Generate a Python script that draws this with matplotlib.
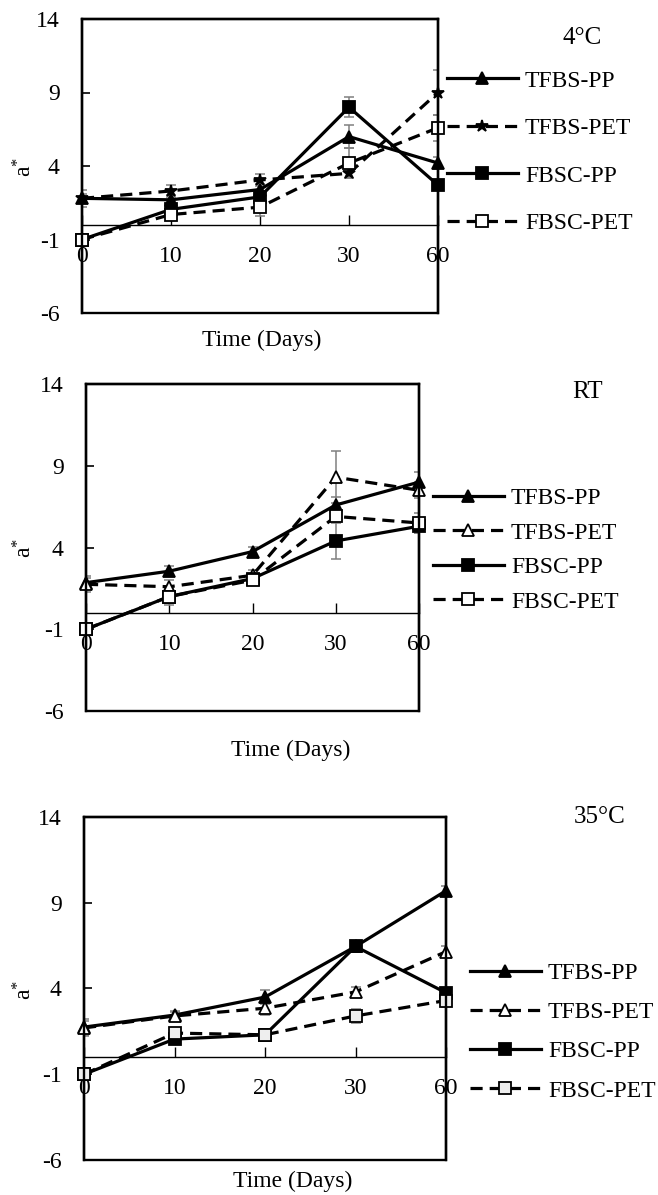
"""
a* colour value of the four samples over storage time,
three panels: 4 °C, room temperature, 35 °C.
"""

import matplotlib
matplotlib.use("Agg")
import matplotlib.pyplot as plt
import numpy as np
from matplotlib.patches import Rectangle

plt.rcParams["font.family"] = ["Liberation Serif", "DejaVu Serif"]
plt.rcParams["mathtext.default"] = "regular"
plt.rcParams["axes.unicode_minus"] = False

# ------------------------------------------------------------
#  data
# ------------------------------------------------------------
days = ["0", "10", "20", "30", "60"]
series_names = ["TFBS-PP", "TFBS-PET", "FBSC-PP", "FBSC-PET"]
y_ticks = [-6, -1, 4, 9, 14]

# 4 °C
c4_tfbs_pp = [1.8, 1.7, 2.4, 6.0, 4.2]
c4_tfbs_pet = [1.8, 2.3, 3.05, 3.5, 9.0]
c4_fbsc_pp = [-1.0, 1.05, 1.9, 8.0, 2.7]
c4_fbsc_pet = [-1.0, 0.7, 1.2, 4.2, 6.6]
c4_err = [
    [0.6, 0.3, 0.4, 0.8, 0.4],
    [0.3, 0.4, 0.4, 0.3, 1.5],
    [0.2, 0.2, 0.3, 0.7, 0.3],
    [0.2, 0.4, 0.6, 1.0, 0.9],
]

# room temperature
rt_tfbs_pp = [1.85, 2.55, 3.75, 6.6, 8.0]
rt_tfbs_pet = [1.75, 1.6, 2.3, 8.3, 7.5]
rt_fbsc_pp = [-1.0, 1.0, 2.1, 4.4, 5.3]
rt_fbsc_pet = [-1.0, 1.0, 2.0, 5.9, 5.5]
rt_err = [
    [0.3, 0.3, 0.3, 0.5, 0.6],
    [0.5, 0.4, 0.3, 1.6, 0.5],
    [0.2, 0.3, 0.3, 1.1, 0.4],
    [0.3, 0.5, 0.3, 0.3, 0.6],
]

# 35 °C
c35_tfbs_pp = [1.75, 2.45, 3.5, 6.45, 9.7]
c35_tfbs_pet = [1.7, 2.4, 2.85, 3.8, 6.15]
c35_fbsc_pp = [-1.0, 1.05, 1.3, 6.45, 3.75]
c35_fbsc_pet = [-1.0, 1.4, 1.3, 2.4, 3.3]
c35_err = [
    [0.5, 0.2, 0.4, 0.2, 0.3],
    [0.4, 0.3, 0.4, 0.3, 0.3],
    [0.2, 0.2, 0.2, 0.3, 0.3],
    [0.2, 0.3, 0.2, 0.4, 0.4],
]

# ------------------------------------------------------------
#  figure
# ------------------------------------------------------------
W, H = 658, 1195
FS = 17
fig = plt.figure(figsize=(W / 100, H / 100), dpi=100)


def px_rect(left, top, right, bottom):
    return [left / W, 1 - bottom / H, (right - left) / W, (bottom - top) / H]


def draw_panel(rect, values, errors, styles, title, title_xy, xlabel_xy,
               ylabel_y, legend_xy, legend_spacing):
    ax = fig.add_axes(rect)
    x = np.arange(len(days))

    handles = []
    for vals, err, st in zip(values, errors, styles):
        ax.errorbar(x, vals, yerr=err, fmt="none", ecolor="#808080",
                    elinewidth=1.1, capsize=3.5, capthick=1.1, zorder=2)
        ln, = ax.plot(x, vals, color="black", lw=2.3, ls=st["ls"],
                      marker=st["marker"], ms=st["ms"],
                      mfc=st["mfc"], mec="black", mew=1.3, zorder=3,
                      clip_on=False)
        if st["ls"] == "--":
            ln.set_dashes((3.8, 2.2))
        handles.append(ln)

    # x axis runs through zero, plot area keeps its box
    ax.spines["bottom"].set_position(("data", 0))
    ax.spines["bottom"].set_linewidth(1.0)
    for s in ["left", "right", "top"]:
        ax.spines[s].set_linewidth(1.7)
    ax.add_patch(Rectangle((0, 0), 1, 1, transform=ax.transAxes, fill=False,
                           lw=1.7, ec="black", zorder=5, clip_on=False))

    ax.set_xlim(0, len(days) - 1)
    ax.set_ylim(y_ticks[0], y_ticks[-1])
    ax.set_xticks(x)
    ax.set_xticklabels(days)
    ax.set_yticks(y_ticks)
    ax.set_yticklabels([str(t) for t in y_ticks])
    ax.tick_params(axis="x", direction="in", length=7, width=1.0, pad=15,
                   labelsize=FS)
    ax.tick_params(axis="y", direction="in", length=6, width=1.2, pad=16,
                   labelsize=FS)

    fig.text(title_xy[0] / W, 1 - title_xy[1] / H, title, fontsize=FS + 1,
             ha="center", va="center")
    fig.text(xlabel_xy[0] / W, 1 - xlabel_xy[1] / H, "Time (Days)",
             fontsize=FS, ha="center", va="center")
    fig.text(25 / W, 1 - ylabel_y / H, "a$^{*}$", fontsize=FS,
             rotation=90, ha="center", va="center")

    ax.legend(handles, series_names, loc="center left",
              bbox_to_anchor=(legend_xy[0] / W, 1 - legend_xy[1] / H),
              bbox_transform=fig.transFigure, frameon=False, fontsize=FS,
              borderpad=0, borderaxespad=0, handlelength=3.0,
              handletextpad=0.3, labelspacing=legend_spacing)
    return ax


styles_4c = [
    dict(ls="-", marker="^", ms=8, mfc="black"),
    dict(ls="--", marker="*", ms=9, mfc="black"),
    dict(ls="-", marker="s", ms=9, mfc="black"),
    dict(ls="--", marker="s", ms=9, mfc="white"),
]
styles_rt = [
    dict(ls="-", marker="^", ms=8, mfc="black"),
    dict(ls="--", marker="^", ms=8, mfc="white"),
    dict(ls="-", marker="s", ms=9, mfc="black"),
    dict(ls="--", marker="s", ms=9, mfc="white"),
]
styles_35c = [
    dict(ls="-", marker="^", ms=8, mfc="black"),
    dict(ls="--", marker="^", ms=8, mfc="white"),
    dict(ls="-", marker="s", ms=9, mfc="black"),
    dict(ls="--", marker="s", ms=9, mfc="#eeeeee"),
]

draw_panel(px_rect(82, 19, 438, 313),
           [c4_tfbs_pp, c4_tfbs_pet, c4_fbsc_pp, c4_fbsc_pet], c4_err,
           styles_4c, "4°C", (582, 38), (262, 340), 167, (447, 152), 1.1)
draw_panel(px_rect(86, 384, 419, 711),
           [rt_tfbs_pp, rt_tfbs_pet, rt_fbsc_pp, rt_fbsc_pet], rt_err,
           styles_rt, "RT", (588, 392), (291, 750), 548, (433, 550), 0.55)
draw_panel(px_rect(84, 817, 446, 1160),
           [c35_tfbs_pp, c35_tfbs_pet, c35_fbsc_pp, c35_fbsc_pet], c35_err,
           styles_35c, "35°C", (600, 817), (293, 1181), 990, (470, 1032), 0.75)

fig.savefig("out.png", dpi=100)
